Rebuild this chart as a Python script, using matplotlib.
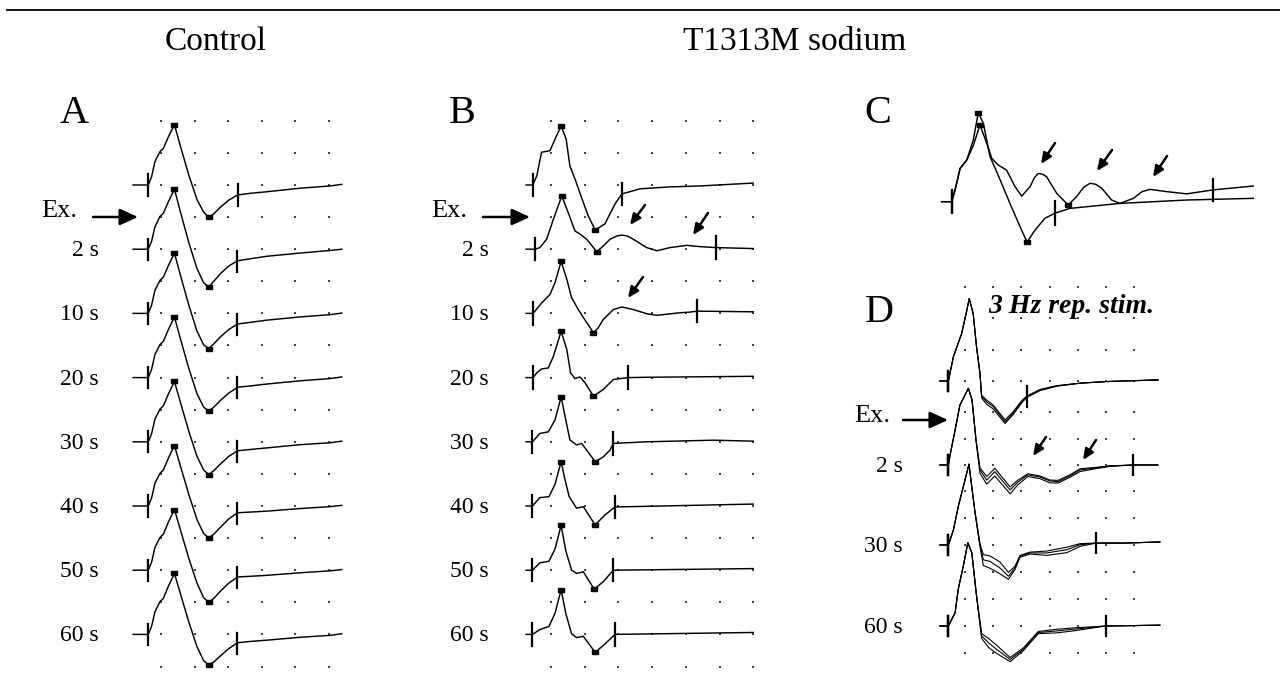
import numpy as np
import matplotlib
matplotlib.use("Agg")
import matplotlib.pyplot as plt
from matplotlib.patches import FancyArrowPatch
from matplotlib.lines import Line2D

plt.rcParams['font.family'] = ['Liberation Serif', 'DejaVu Serif']

# ---------------- data (divisions; stim at left, baseline = 0) ----------------
A_labels = ["", "2 s", "10 s", "20 s", "30 s", "40 s", "50 s", "60 s"]
A_t = [-0.83, -0.38, -0.28, -0.18, -0.03, 0.07, 0.22, 0.40, 0.58, 0.83, 1.07, 1.27,
       1.42, 1.57, 1.78, 2.02, 2.28, 2.65, 3.15, 4.14, 5.03, 5.38]
A_v = [
    [0, 0, 0.26, 0.73, 1.04, 1.14, 1.50, 1.88, 1.20, 0.30, -0.45, -0.85, -1.00, -0.90, -0.68, -0.47, -0.31, -0.26, -0.21, -0.10, -0.03, 0.02],
    [0, 0, 0.25, 0.70, 1.02, 1.12, 1.48, 1.87, 1.15, 0.20, -0.60, -1.05, -1.17, -1.00, -0.75, -0.52, -0.36, -0.30, -0.22, -0.12, -0.04, 0.00],
    [0, 0, 0.26, 0.72, 1.03, 1.13, 1.49, 1.88, 1.18, 0.25, -0.55, -0.98, -1.10, -0.95, -0.72, -0.50, -0.33, -0.28, -0.21, -0.11, -0.04, 0.01],
    [0, 0, 0.26, 0.72, 1.03, 1.13, 1.50, 1.89, 1.20, 0.28, -0.50, -0.92, -1.05, -0.92, -0.70, -0.48, -0.30, -0.26, -0.20, -0.10, -0.03, 0.02],
    [0, 0, 0.25, 0.71, 1.02, 1.12, 1.49, 1.88, 1.22, 0.32, -0.45, -0.88, -1.02, -0.90, -0.68, -0.45, -0.28, -0.24, -0.19, -0.09, -0.03, 0.02],
    [0, 0, 0.25, 0.71, 1.02, 1.12, 1.49, 1.88, 1.24, 0.35, -0.42, -0.86, -0.99, -0.88, -0.65, -0.40, -0.21, -0.19, -0.16, -0.08, -0.02, 0.02],
    [0, 0, 0.25, 0.71, 1.02, 1.12, 1.50, 1.89, 1.25, 0.36, -0.40, -0.86, -1.00, -0.88, -0.64, -0.40, -0.21, -0.19, -0.16, -0.08, -0.02, 0.02],
    [0, 0, 0.25, 0.71, 1.02, 1.12, 1.50, 1.90, 1.26, 0.38, -0.38, -0.82, -0.95, -0.86, -0.66, -0.44, -0.26, -0.22, -0.18, -0.09, -0.03, 0.02],
]
A_stim = -0.38
A_end = [2.28, 2.25, 2.25, 2.25, 2.25, 2.25, 2.25, 2.25]

B_labels = ["", "2 s", "10 s", "20 s", "30 s", "40 s", "50 s", "60 s"]
B_t = [
    [-0.74, -0.54, -0.42, -0.28, -0.03, 0.12, 0.30, 0.45, 0.56, 0.71, 0.92, 1.10, 1.31, 1.60, 1.90, 2.10, 2.64, 3.50, 4.42, 6.0],
    [-0.74, -0.47, -0.33, -0.13, 0.07, 0.32, 0.51, 0.71, 0.86, 1.06, 1.36, 1.55, 1.75, 1.95, 2.10, 2.27, 2.44, 2.84, 3.14, 3.53, 4.03, 4.42, 4.90, 6.0],
    [-0.74, -0.53, -0.28, -0.03, 0.12, 0.30, 0.47, 0.61, 0.81, 0.96, 1.26, 1.40, 1.55, 1.85, 2.10, 2.44, 2.84, 3.14, 3.83, 4.12, 4.34, 6.0],
    [-0.74, -0.53, -0.42, -0.28, -0.08, 0.07, 0.30, 0.47, 0.58, 0.71, 0.86, 1.01, 1.26, 1.55, 1.85, 2.29, 2.84, 6.0],
    [-0.74, -0.55, -0.33, -0.08, 0.12, 0.30, 0.42, 0.56, 0.76, 0.91, 1.06, 1.31, 1.55, 1.75, 1.85, 2.84, 4.82, 6.0],
    [-0.74, -0.55, -0.33, -0.06, 0.12, 0.30, 0.42, 0.54, 0.76, 0.96, 1.31, 1.60, 1.90, 6.0],
    [-0.74, -0.55, -0.33, -0.06, 0.12, 0.30, 0.44, 0.61, 0.76, 0.96, 1.28, 1.55, 1.85, 6.0],
    [-0.74, -0.55, -0.33, -0.06, 0.12, 0.30, 0.44, 0.61, 0.76, 0.96, 1.31, 1.60, 1.90, 6.0],
]
B_v = [
    [0, 0, 0.29, 1.02, 1.07, 1.43, 1.84, 1.43, 0.60, 0.19, -0.43, -0.95, -1.40, -1.21, -0.59, -0.28, -0.12, -0.06, -0.03, 0.06],
    [0, 0, 0.05, 0.31, 0.93, 1.66, 1.14, 0.57, 0.47, 0.31, -0.08, 0.10, 0.31, 0.41, 0.44, 0.41, 0.31, 0.05, -0.05, 0.05, 0.12, 0.08, 0.05, 0.02],
    [0, 0, 0.32, 0.59, 0.96, 1.62, 1.06, 0.49, 0.12, -0.13, -0.60, -0.45, -0.19, 0.12, 0.20, 0.12, -0.01, -0.06, 0.02, 0.04, 0.07, 0.05],
    [0, 0, 0.15, 0.27, 0.30, 0.66, 1.44, 0.87, 0.15, -0.03, 0.02, -0.16, -0.58, -0.37, -0.06, 0.0, 0.01, 0.04],
    [0, 0, 0.26, 0.31, 0.68, 1.40, 0.78, 0.06, -0.10, -0.05, -0.26, -0.62, -0.47, -0.26, -0.05, 0.0, 0.05, 0.02],
    [0, 0, 0.26, 0.29, 0.68, 1.38, 0.80, 0.29, -0.07, -0.02, -0.59, -0.28, -0.03, 0.06],
    [0, 0, 0.23, 0.28, 0.66, 1.40, 0.60, 0.0, -0.10, -0.05, -0.59, -0.36, 0.0, 0.05],
    [0, 0, 0.15, 0.25, 0.66, 1.39, 0.65, 0.02, -0.10, -0.06, -0.56, -0.30, 0.0, 0.06],
]
B_stim = [-0.54, -0.47, -0.53, -0.53, -0.55, -0.55, -0.55, -0.55]
B_end = [2.10, 4.90, 4.34, 2.29, 1.85, 1.90, 1.85, 1.90]

C_t_deep = [-0.36, 0, 0.12, 0.30, 0.54, 0.77, 0.95, 1.13, 1.37, 1.73, 2.08, 2.44, 2.69, 2.98, 3.33, 3.69, 4.22, 6.01, 8.39, 10.77]
C_v_deep = [0, 0, 0.42, 1.19, 1.49, 2.20, 3.18, 2.80, 1.61, 0.78, -0.06, -0.89, -1.44, -1.01, -0.59, -0.41, -0.24, -0.06, 0.06, 0.12]
C_t_osc = [-0.36, 0, 0.12, 0.30, 0.54, 0.77, 1.01, 1.25, 1.43, 1.66, 1.96, 2.26, 2.50, 2.80, 2.95, 3.09, 3.25, 3.39, 3.75, 4.16,
           4.46, 4.70, 4.94, 5.15, 5.36, 5.71, 6.01, 6.49, 6.80, 7.08, 7.68, 8.39, 9.32, 10.77]
C_v_osc = [0, 0, 0.42, 1.19, 1.49, 2.00, 2.74, 2.09, 1.55, 1.31, 1.13, 0.54, 0.20, 0.54, 0.85, 1.01, 0.98, 0.89, 0.30, -0.12,
           0.18, 0.50, 0.66, 0.62, 0.48, 0.06, -0.06, 0.12, 0.36, 0.44, 0.36, 0.28, 0.42, 0.56]
C_end = [3.69, 9.32]

D_labels = ["", "2 s", "30 s", "60 s"]
D_t = [
    [-0.89, -0.59, -0.41, -0.29, -0.12, 0.04, 0.15, 0.29, 0.41, 0.53, 0.59, 0.77, 1.0, 1.42, 1.71, 2.01, 2.19, 2.66, 3.25, 4.08, 5.02, 6.85],
    [-0.89, -0.59, -0.53, -0.35, -0.18, 0.12, 0.25, 0.39, 0.53, 0.77, 1.06, 1.24, 1.60, 1.88, 2.23, 2.66, 3.01, 3.30, 3.72, 4.08, 4.61, 5.14, 5.95, 6.84],
    [-0.89, -0.59, -0.41, -0.24, -0.06, 0.14, 0.35, 0.53, 0.65, 0.89, 1.24, 1.54, 1.77, 1.95, 2.30, 2.90, 3.61, 4.08, 4.65, 5.61, 6.91],
    [-0.89, -0.59, -0.35, -0.24, -0.06, 0.10, 0.24, 0.41, 0.59, 0.83, 1.12, 1.60, 2.07, 2.60, 3.25, 3.84, 4.99, 6.91],
]
D_sweeps = [
    [[0, 0, 0.89, 1.24, 1.73, 2.46, 3.01, 2.46, 1.24, 0.28, -0.57, -0.76, -0.93, -1.49, -1.18, -0.76, -0.57, -0.33, -0.18, -0.08, -0.02, 0.04],
     [0, 0, 0.89, 1.24, 1.73, 2.46, 3.01, 2.46, 1.24, 0.28, -0.62, -0.85, -1.02, -1.55, -1.22, -0.80, -0.60, -0.35, -0.19, -0.08, -0.02, 0.04],
     [0, 0, 0.89, 1.24, 1.73, 2.46, 3.01, 2.46, 1.24, 0.28, -0.52, -0.70, -0.88, -1.42, -1.12, -0.72, -0.55, -0.31, -0.17, -0.08, -0.02, 0.04]],
    [[0, 0, 0.36, 1.28, 2.19, 2.80, 2.37, 0.91, -0.18, -0.55, -0.24, -0.47, -0.91, -0.62, -0.36, -0.44, -0.58, -0.61, -0.40, -0.18, -0.11, -0.04, 0, 0],
     [0, 0, 0.36, 1.28, 2.19, 2.80, 2.37, 0.91, -0.30, -0.70, -0.40, -0.62, -1.05, -0.72, -0.42, -0.50, -0.65, -0.66, -0.45, -0.24, -0.14, -0.05, 0, 0],
     [0, 0, 0.36, 1.28, 2.19, 2.80, 2.37, 0.91, -0.10, -0.42, -0.12, -0.35, -0.80, -0.55, -0.32, -0.40, -0.55, -0.56, -0.36, -0.14, -0.09, -0.03, 0, 0]],
    [[0, 0, 0.55, 1.40, 2.13, 2.95, 1.23, 0.0, -0.54, -0.60, -0.84, -1.14, -0.84, -0.41, -0.29, -0.29, -0.17, 0.01, 0.07, 0.07, 0.11],
     [0, 0, 0.55, 1.40, 2.13, 2.95, 1.23, -0.05, -0.75, -0.85, -1.05, -1.25, -0.90, -0.45, -0.33, -0.38, -0.28, -0.05, 0.07, 0.07, 0.11],
     [0, 0, 0.55, 1.40, 2.13, 2.95, 1.23, 0.05, -0.35, -0.40, -0.62, -1.00, -0.78, -0.38, -0.26, -0.22, -0.08, 0.05, 0.07, 0.07, 0.11]],
    [[0, 0, 0.49, 1.34, 2.19, 3.04, 2.68, 1.09, -0.36, -0.61, -0.85, -1.22, -0.85, -0.24, -0.18, -0.12, 0, 0.03],
     [0, 0, 0.49, 1.34, 2.19, 3.04, 2.68, 1.09, -0.45, -0.78, -1.00, -1.30, -0.90, -0.28, -0.25, -0.18, 0, 0.03],
     [0, 0, 0.49, 1.34, 2.19, 3.04, 2.68, 1.09, -0.28, -0.45, -0.70, -1.15, -0.80, -0.20, -0.12, -0.07, 0, 0.03]],
]
D_stim = -0.59
D_end = [2.19, 5.95, 4.65, 4.99]

# ---------------- layout helpers ----------------
W, H = 1280, 675
fig = plt.figure(figsize=(W / 100, H / 100), dpi=100)
fig.patch.set_facecolor('white')

RECT = [(-1, -0.45), (1, -0.45), (1, 0.45), (-1, 0.45), (-1, -0.45)]


def panel(x0, y0, sx, sy, xlim, ylim):
    left = x0 + xlim[0] * sx
    right = x0 + xlim[1] * sx
    top = y0 - ylim[1] * sy
    bottom = y0 - ylim[0] * sy
    ax = fig.add_axes([left / W, 1 - bottom / H, (right - left) / W, (bottom - top) / H])
    ax.set_xlim(*xlim)
    ax.set_ylim(*ylim)
    ax.axis('off')
    return ax


def dots(ax, ncol, rows):
    gx, gy = np.meshgrid(np.arange(ncol), rows)
    ax.scatter(gx.ravel(), gy.ravel(), s=1.6, c='#444444', marker='s', linewidths=0, zorder=1)


def trace(ax, t, v, off, stim, end, th, marks=True, lw=1.05):
    t = np.asarray(t, float)
    y = np.asarray(v, float) + off
    ax.plot(t, y, color='black', lw=lw, zorder=3, solid_joinstyle='round')
    ax.plot([stim, stim], [off - th, off + th], color='black', lw=1.6, zorder=3)
    if end is not None:
        ey = np.interp(end, t, y)
        ax.plot([end, end], [ey - th, ey + th], color='black', lw=1.6, zorder=3)
    if marks:
        for i in (np.argmax(y), np.argmin(y)):
            ax.plot(t[i], y[i], marker=RECT, ms=5, color='black', zorder=4)


# Panel A
axA = panel(161, 185, 33.6, 32.1, (-1.2, 5.6), (-15.3, 2.6))
dots(axA, 6, np.arange(2, -16, -1))
for i in range(8):
    trace(axA, A_t, A_v[i], -2 * i, A_stim, A_end[i], 0.33)

# Panel B
axB = panel(551, 185, 33.7, 32.1, (-1.0, 6.3), (-15.3, 2.6))
dots(axB, 7, np.arange(2, -16, -1))
for i in range(8):
    trace(axB, B_t[i], B_v[i], -2 * i, B_stim[i], B_end[i], 0.35)

# Panel C
axC = panel(951.7, 201.7, 28.0, 28.0, (-0.6, 11.2), (-2.2, 3.8))
trace(axC, C_t_deep, C_v_deep, 0, 0, C_end[0], 0.42)
trace(axC, C_t_osc, C_v_osc, 0, 0, C_end[1], 0.38)

# Panel D (grid rows measured in pixels on the scan)
D_Y0, D_SY = 381.0, 27.4
axD = panel(965, D_Y0, 28.2, D_SY, (-1.1, 7.2), (-10.6, 3.8))
D_row_px = np.array([286.7, 318.3, 350.0, 381.0, 411.7, 439.0, 465.0, 491.0, 518.0, 545.0, 572.0, 599.0, 626.0, 653.3])
dots(axD, 7, (D_Y0 - D_row_px) / D_SY)
D_base = [(D_Y0 - b) / D_SY for b in (381.0, 465.0, 545.0, 626.0)]
for i in range(4):
    for k, sw in enumerate(D_sweeps[i]):
        trace(axD, D_t[i], sw, D_base[i], D_stim, D_end[i] if k == 0 else None, 0.37, marks=False, lw=0.8)

# ---------------- overlay: text and arrows (pixel coordinates) ----------------
ov = fig.add_axes([0, 0, 1, 1])
ov.set_xlim(0, W)
ov.set_ylim(H, 0)
ov.axis('off')
ov.patch.set_alpha(0)

ov.add_line(Line2D([7, W], [9.5, 9.5], color='black', lw=1.3))
ov.text(216, 50, "Control", fontsize=24, ha='center', va='baseline')
ov.text(795, 50, "T1313M sodium", fontsize=24, ha='center', va='baseline')

for s, x, y in [("A", 60, 123), ("B", 449, 123), ("C", 864, 123), ("D", 865, 322)]:
    ov.text(x, y, s, fontsize=29, ha='left', va='baseline')
ov.text(988, 313, "3 Hz rep. stim.", fontsize=20, fontweight='bold', fontstyle='italic',
        ha='left', va='baseline')


def big_arrow(x0, x1, y):
    ov.add_patch(FancyArrowPatch((x0, y), (x1, y), arrowstyle='-|>,head_length=0.55,head_width=0.25',
                                 mutation_scale=20, color='black', lw=1.8, shrinkA=0, shrinkB=0))


def small_arrow(x0, y0, x1, y1):
    ov.add_patch(FancyArrowPatch((x0, y0), (x1, y1), arrowstyle='-|>,head_length=0.45,head_width=0.2',
                                 mutation_scale=14, color='black', lw=1.8, shrinkA=0, shrinkB=0))


# labels for A and B
for lab, base, (rx, ex_r, ax0, ax1) in [(A_labels, 185, (99, 77, 93, 138)), (B_labels, 185, (489, 467, 483, 530))]:
    for i, s in enumerate(lab):
        if s:
            ov.text(rx, base + 64.2 * i + 7, s, fontsize=17, ha='right', va='baseline')
    ov.text(ex_r, 217, "Ex.", fontsize=19, ha='right', va='baseline')
    big_arrow(ax0, ax1, 217)

for s, b in zip(D_labels, (381.0, 465.0, 545.0, 626.0)):
    if s:
        ov.text(903, b + 7, s, fontsize=17, ha='right', va='baseline')
ov.text(890, 422, "Ex.", fontsize=19, ha='right', va='baseline')
big_arrow(903, 948, 420)

# annotation arrows (tail -> head)
for (x0, y0, x1, y1) in [(645, 205, 630, 225), (708, 213, 693, 235), (643, 277, 628, 298),
                         (1055, 143, 1041, 164), (1112, 150, 1097, 171), (1167, 156, 1153, 177),
                         (1046, 437, 1033, 456), (1096, 440, 1083, 460)]:
    small_arrow(x0, y0, x1, y1)

fig.savefig("out.png", dpi=100, facecolor='white')
